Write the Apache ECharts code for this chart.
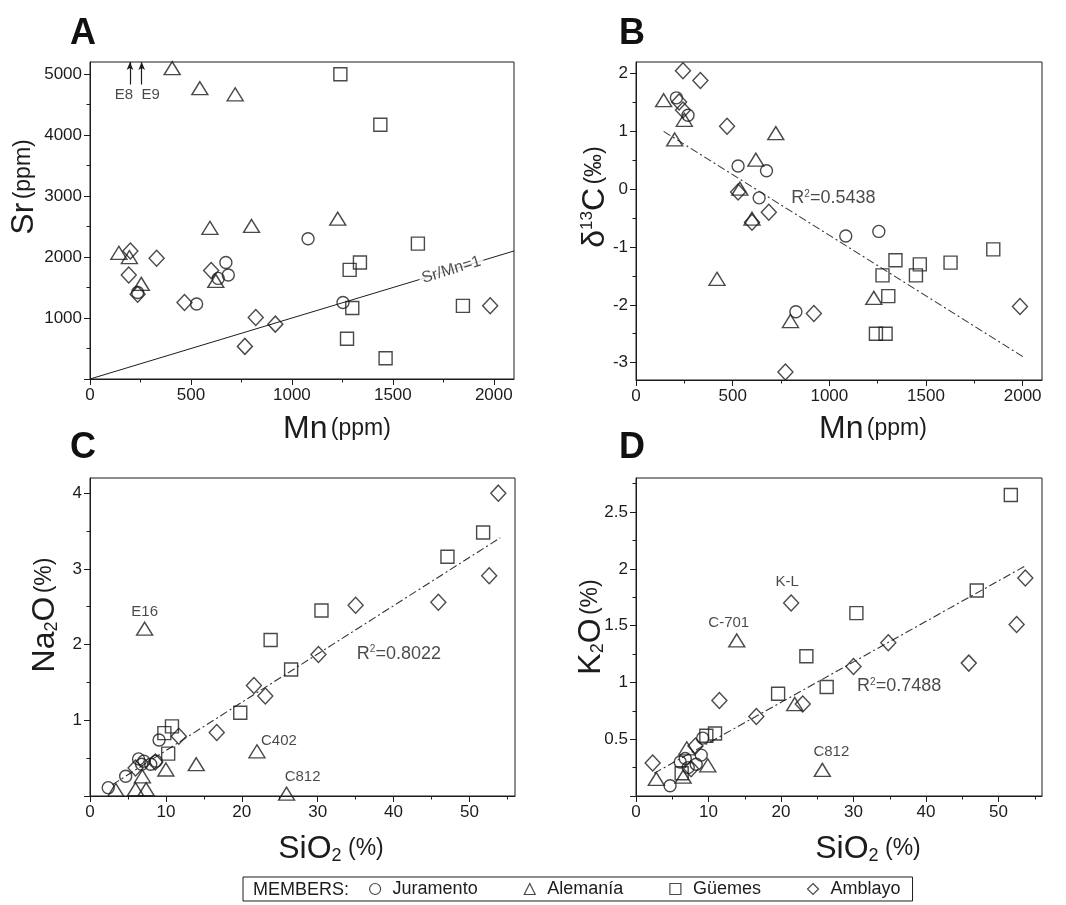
<!DOCTYPE html>
<html>
<head>
<meta charset="utf-8">
<script src="https://cdn.jsdelivr.net/npm/echarts@6/dist/echarts.min.js"></script>
<style>
  html, body { margin: 0; padding: 0; background: #fff; }
  #chart { width: 1066px; height: 905px; }
</style>
</head>
<body>
<div id="chart"></div>
<script>
// ---------- members ----------
const MEMBERS = ['Juramento', 'Alemanía', 'Güemes', 'Amblayo'];

// ---------- A: Sr (ppm) vs Mn (ppm) ----------
const juramentoA = [[1080, 2300], [673, 1910], [685, 1705], [635, 1650], [528, 1230], [1253, 1255], [236, 1420]];
const alemaniaA = [[407, 5100], [544, 4770], [719, 4670], [594, 2480], [800, 2510], [1227, 2630], [143, 2070], [195, 2000], [254, 1560], [623, 1610]];
const guemesA = [[1240, 5000], [1438, 4170], [1624, 2220], [1337, 1910], [1286, 1790], [1299, 1165], [1847, 1200], [1273, 660], [1464, 340]];
const amblayoA = [[200, 2100], [330, 1980], [192, 1705], [236, 1390], [600, 1780], [468, 1255], [821, 1010], [918, 900], [767, 535], [1982, 1200]];
const offscaleNames = ['E8', 'E9'];          // Sr above the axis range
const offscaleMn = [198, 256];
const ratioLine = [[0, 0], [2100, 2100]];     // Sr/Mn = 1

// ---------- B: d13C (permil) vs Mn (ppm) ----------
const juramentoB = [[209, 1.58], [269, 1.28], [528, 0.40], [675, 0.32], [637, -0.15], [1085, -0.81], [1256, -0.73], [827, -2.12]];
const alemaniaB = [[143, 1.54], [200, 0.86], [250, 1.20], [723, 0.97], [620, 0.51], [537, 0.01], [600, -0.51], [419, -1.55], [1230, -1.88], [799, -2.28]];
const guemesB = [[1275, -1.49], [1342, -1.23], [1468, -1.30], [1448, -1.49], [1305, -1.85], [1627, -1.27], [1848, -1.04], [1241, -2.50], [1291, -2.50]];
const amblayoB = [[243, 2.05], [333, 1.88], [471, 1.09], [223, 1.51], [243, 1.37], [687, -0.40], [600, -0.57], [528, -0.05], [773, -3.16], [920, -2.15], [1986, -2.03]];
const trendB = [[143, 1.0], [2003, -2.9]];
const r2B = 'R{s|2}=0.5438';

// ---------- C: Na2O (%) vs SiO2 (%) ----------
const juramentoC = [[2.4, 0.11], [4.7, 0.26], [6.4, 0.49], [7.1, 0.46], [8.0, 0.42], [8.7, 0.46], [9.1, 0.74], [6.8, 0.42]];
const alemaniaC = [[3.4, 0.08], [6.0, 0.09], [7.4, 0.09], [6.9, 0.26], [10.0, 0.35], [14.0, 0.42], [7.2, 2.21], [22.0, 0.59], [25.9, 0.03]];
const guemesC = [[9.8, 0.83], [10.8, 0.92], [10.3, 0.56], [19.8, 1.10], [23.8, 2.06], [26.5, 1.67], [30.5, 2.45], [47.1, 3.16], [51.8, 3.48]];
const amblayoC = [[6.0, 0.37], [8.6, 0.45], [11.7, 0.79], [16.7, 0.84], [21.6, 1.46], [23.1, 1.32], [30.1, 1.87], [35.0, 2.52], [45.9, 2.56], [52.6, 2.91], [53.8, 4.0]];
const trendC = [[2.95, 0.15], [54.05, 3.41]];
const r2C = 'R{s|2}=0.8022';
const samplesC = { E16: 6, C402: 7, C812: 8 };   // indices into alemaniaC

// ---------- D: K2O (%) vs SiO2 (%) ----------
const juramentoD = [[4.7, 0.09], [9.2, 0.51], [6.1, 0.30], [7.2, 0.25], [8.3, 0.28], [9.0, 0.36], [6.8, 0.33]];
const alemaniaD = [[2.8, 0.15], [6.5, 0.17], [7.0, 0.42], [9.9, 0.27], [13.9, 1.37], [21.9, 0.81], [25.7, 0.23]];
const guemesD = [[6.3, 0.20], [9.7, 0.53], [10.9, 0.55], [19.6, 0.90], [23.5, 1.23], [26.3, 0.96], [30.4, 1.61], [47.0, 1.81], [51.7, 2.65]];
const amblayoD = [[2.3, 0.29], [7.6, 0.24], [8.2, 0.44], [11.5, 0.84], [16.6, 0.70], [21.4, 1.70], [23.0, 0.81], [30.0, 1.14], [34.8, 1.35], [45.9, 1.17], [52.5, 1.51], [53.7, 1.92]];
const trendD = [[2.5, 0.20], [53.8, 2.03]];
const r2D = 'R{s|2}=0.7488';
const samplesDAlemania = { 'C-701': 4, 'C812': 6 };
const samplesDAmblayo = { 'K-L': 5 };

// ---------- ticks ----------
const ticksMn = [0, 500, 1000, 1500, 2000];
const minorMn = [250, 750, 1250, 1750];
const ticksSr = [0, 1000, 2000, 3000, 4000, 5000];
const labelsSr = [1000, 2000, 3000, 4000, 5000];
const minorSr = [500, 1500, 2500, 3500, 4500];
const ticksC13 = [-3, -2, -1, 0, 1, 2];
const minorC13 = [-2.5, -1.5, -0.5, 0.5, 1.5];
const ticksSiO2 = [0, 10, 20, 30, 40, 50];
const minorSiO2 = [5, 15, 25, 35, 45, 55];
const ticksNa2O = [0, 1, 2, 3, 4];
const labelsNa2O = [1, 2, 3, 4];
const minorNa2O = [0.5, 1.5, 2.5, 3.5];
const ticksK2O = [0, 0.5, 1, 1.5, 2, 2.5];
const labelsK2O = [0.5, 1, 1.5, 2, 2.5];
const minorK2O = [0.25, 0.75, 1.25, 1.75, 2.25, 2.75];

// ---------- styling ----------
const FONT = '"Liberation Sans", Arial, Helvetica, sans-serif';
const INK = '#1c1c1c';
const SYMBOL = {
  'Juramento': { symbol: 'circle', size: 12 },
  'Alemanía': { symbol: 'triangle', size: [16, 13] },
  'Güemes': { symbol: 'rect', size: 13 },
  'Amblayo': { symbol: 'diamond', size: [15, 16] }
};
const GRIDS = [
  { left: 90, top: 62, width: 424, height: 317 },
  { left: 636, top: 62, width: 406, height: 318 },
  { left: 90, top: 478, width: 425, height: 318 },
  { left: 636, top: 478, width: 406, height: 318 }
];

function axisPair(gridIndex, position, min, max, ticks, labels, minors) {
  const major = {
    type: 'value', gridIndex, position, min, max,
    axisLine: { show: true, onZero: false, lineStyle: { color: INK, width: 1 } },
    axisTick: { show: true, inside: false, length: 6, customValues: ticks, lineStyle: { color: INK, width: 1 } },
    axisLabel: {
      show: true, customValues: labels, margin: 8, color: INK, fontSize: 17, fontFamily: FONT,
      formatter: v => String(Math.round(v * 100) / 100)
    },
    splitLine: { show: false }
  };
  const minor = {
    type: 'value', gridIndex, position, min, max,
    axisLine: { show: false, onZero: false },
    axisTick: { show: true, inside: false, length: 3.5, customValues: minors, lineStyle: { color: INK, width: 1 } },
    axisLabel: { show: false },
    splitLine: { show: false }
  };
  return [major, minor];
}

const xAxes = [
  ...axisPair(0, 'bottom', 0, 2100, ticksMn, ticksMn, minorMn),
  ...axisPair(1, 'bottom', 0, 2100, ticksMn, ticksMn, minorMn),
  ...axisPair(2, 'bottom', 0, 56, ticksSiO2, ticksSiO2, minorSiO2),
  ...axisPair(3, 'bottom', 0, 56, ticksSiO2, ticksSiO2, minorSiO2)
];
const yAxes = [
  ...axisPair(0, 'left', 0, 5200, ticksSr, labelsSr, minorSr),
  ...axisPair(1, 'left', -3.3, 2.2, ticksC13, ticksC13, minorC13),
  ...axisPair(2, 'left', 0, 4.2, ticksNa2O, labelsNa2O, minorNa2O),
  ...axisPair(3, 'left', 0, 2.8, ticksK2O, labelsK2O, minorK2O)
];

// sample tags: offsets of the tag from its marker, in pixels
const TAG_OFFSET = {
  'E16': [0, -17], 'C402': [22, -10], 'C812': [16, -17],
  'C-701': [-8, -18], 'K-L': [-4, -21], 'C812 D': [9, -18],
  'E8': [-6, 0], 'E9': [9, 0]
};
const tagStyle = { fontSize: 15, color: INK, fontFamily: FONT };

function tagged(data, tags, suffix) {
  return data.map((p, i) => {
    const name = Object.keys(tags).find(k => tags[k] === i);
    if (!name) return p;
    const off = TAG_OFFSET[suffix && TAG_OFFSET[name + suffix] ? name + suffix : name];
    return {
      value: p,
      label: Object.assign({ show: true, position: 'inside', offset: off, formatter: name }, tagStyle)
    };
  });
}

function markers(panel, member, data) {
  const s = SYMBOL[member];
  return {
    type: 'scatter', name: member, xAxisIndex: panel * 2, yAxisIndex: panel * 2,
    data, symbol: s.symbol, symbolSize: s.size, clip: false, z: 4,
    itemStyle: { color: 'rgba(255,255,255,0)', borderColor: INK, borderWidth: 1.4 },
    emphasis: { disabled: true }
  };
}

function trend(panel, data) {
  return {
    type: 'line', xAxisIndex: panel * 2, yAxisIndex: panel * 2, data,
    symbol: 'none', silent: true, z: 2,
    lineStyle: { color: '#333', width: 1.1, type: [8, 3, 2, 3] }
  };
}

function r2Label(panel, text, at) {
  return {
    type: 'scatter', xAxisIndex: panel * 2, yAxisIndex: panel * 2,
    data: [at], symbolSize: 0, silent: true, z: 6,
    label: {
      show: true, position: 'inside', formatter: text, color: INK, fontSize: 18, fontFamily: FONT,
      rich: { s: { fontSize: 10, verticalAlign: 'top', fontFamily: FONT, color: INK } }
    }
  };
}

const ARROW_FOOT = 4830;   // lower end of the off-scale arrows, in Sr units

const series = [
  // A
  markers(0, 'Juramento', juramentoA),
  markers(0, 'Alemanía', alemaniaA),
  markers(0, 'Güemes', guemesA),
  markers(0, 'Amblayo', amblayoA),
  {
    type: 'line', xAxisIndex: 0, yAxisIndex: 0, data: ratioLine, symbol: 'none', silent: true, z: 2,
    lineStyle: { color: INK, width: 1 },
    markLine: {
      silent: true, symbol: ['none', 'arrow'], symbolSize: [5, 8],
      lineStyle: { color: INK, type: 'solid', width: 1.2 },
      label: { show: false },
      data: offscaleMn.map(mn => [{ coord: [mn, ARROW_FOOT] }, { coord: [mn, 5200] }])
    }
  },
  {
    type: 'scatter', xAxisIndex: 0, yAxisIndex: 0, symbolSize: 0, silent: true, z: 6,
    data: offscaleMn.map((mn, i) => ({
      value: [mn, ARROW_FOOT],
      label: {
        show: true, position: 'bottom', distance: 3, offset: TAG_OFFSET[offscaleNames[i]],
        formatter: offscaleNames[i], color: INK, fontSize: 15, fontFamily: FONT
      }
    }))
  },
  {
    type: 'scatter', xAxisIndex: 0, yAxisIndex: 0, data: [[1790, 1790]], symbolSize: 0, silent: true, z: 6,
    label: {
      show: true, position: 'inside', formatter: 'Sr/Mn=1', rotate: 17, color: INK, fontSize: 16,
      fontFamily: FONT, backgroundColor: '#fff', padding: [0, 3]
    }
  },
  // B
  markers(1, 'Juramento', juramentoB),
  markers(1, 'Alemanía', alemaniaB),
  markers(1, 'Güemes', guemesB),
  markers(1, 'Amblayo', amblayoB),
  trend(1, trendB),
  r2Label(1, r2B, [1021, -0.16]),
  // C
  markers(2, 'Juramento', juramentoC),
  markers(2, 'Alemanía', tagged(alemaniaC, samplesC)),
  markers(2, 'Güemes', guemesC),
  markers(2, 'Amblayo', amblayoC),
  trend(2, trendC),
  r2Label(2, r2C, [40.7, 1.88]),
  // D
  markers(3, 'Juramento', juramentoD),
  markers(3, 'Alemanía', tagged(alemaniaD, samplesDAlemania, ' D')),
  markers(3, 'Güemes', guemesD),
  markers(3, 'Amblayo', tagged(amblayoD, samplesDAmblayo)),
  trend(3, trendD),
  r2Label(3, r2D, [36.3, 0.97])
];

// axis titles and panel letters
function title(x, y, text, rich, rotated) {
  return {
    type: 'text', x, y, rotation: rotated ? Math.PI / 2 : 0, silent: true,
    style: { text, rich, align: 'center', verticalAlign: 'middle', fill: INK, fontFamily: FONT }
  };
}
const big = { fontSize: 32, fontFamily: FONT, fill: INK, color: INK };
const mid = { fontSize: 23, fontFamily: FONT, fill: INK, color: INK };
const sub = { fontSize: 18, fontFamily: FONT, fill: INK, color: INK, verticalAlign: 'bottom' };
const sup = { fontSize: 17, fontFamily: FONT, fill: INK, color: INK, verticalAlign: 'top' };
const richT = { a: big, b: mid, s: sub, p: sup };

function letter(x, y, t) {
  return {
    type: 'text', x, y, silent: true,
    style: { text: t, fill: '#111', font: 'bold 36px ' + FONT, align: 'left', verticalAlign: 'middle' }
  };
}

const graphic = [
  letter(70, 34, 'A'), letter(619, 34, 'B'), letter(70, 448, 'C'), letter(619, 448, 'D'),
  title(24, 187, '{a|Sr} {b|(ppm)}', richT, true),
  title(337, 429, '{a|Mn} {b|(ppm)}', richT, false),
  title(595, 197, '{a|δ}{p|13}{a|C} {b|(‰)}', richT, true),
  title(873, 429, '{a|Mn} {b|(ppm)}', richT, false),
  title(45, 615, '{a|Na}{s|2}{a|O} {b|(%)}', richT, true),
  title(331, 849, '{a|SiO}{s|2}{b| (%)}', richT, false),
  title(591, 627, '{a|K}{s|2}{a|O} {b|(%)}', richT, true),
  title(868, 849, '{a|SiO}{s|2}{b| (%)}', richT, false),
  {
    type: 'text', x: 253, y: 890, silent: true, z: 10,
    style: { text: 'MEMBERS:', fill: INK, font: '18px ' + FONT, align: 'left', verticalAlign: 'middle' }
  }
];

const chart = echarts.init(document.getElementById('chart'), null, { renderer: 'canvas' });
chart.setOption({
  backgroundColor: '#fff',
  animation: false,
  textStyle: { fontFamily: FONT },
  grid: GRIDS.map(g => Object.assign({ show: true, borderColor: INK, borderWidth: 1, backgroundColor: 'transparent', containLabel: false }, g)),
  xAxis: xAxes,
  yAxis: yAxes,
  legend: {
    left: 243, top: 877, orient: 'horizontal', selectedMode: false,
    padding: [3, 12, 3, 126], itemGap: 46, itemWidth: 11, itemHeight: 11,
    borderColor: INK, borderWidth: 1,
    itemStyle: { color: 'rgba(255,255,255,0)', borderColor: INK, borderWidth: 1.2 },
    textStyle: { fontSize: 18, color: INK, fontFamily: FONT, padding: [0, 0, 0, 7] },
    data: [
      { name: 'Juramento', icon: 'circle' },
      { name: 'Alemanía', icon: 'triangle' },
      { name: 'Güemes', icon: 'rect' },
      { name: 'Amblayo', icon: 'diamond' }
    ]
  },
  graphic,
  series
});
</script>
</body>
</html>
